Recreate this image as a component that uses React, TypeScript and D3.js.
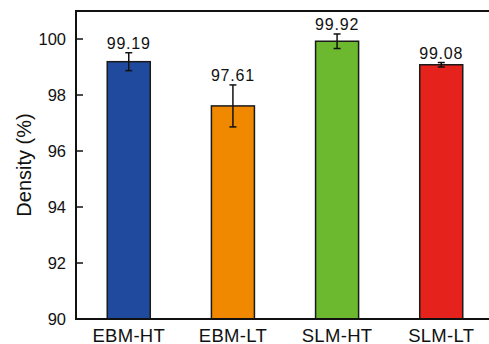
import React from "react";
import * as d3 from "d3";

const categories = ["EBM-HT", "EBM-LT", "SLM-HT", "SLM-LT"];
const densities = [99.19, 97.61, 99.92, 99.08];
const errors = [0.32, 0.75, 0.26, 0.08];
const barColors = ["#1f4a9e", "#f08800", "#6cb92f", "#e6221c"];
const yTicks = [90, 92, 94, 96, 98, 100];

const W = 489;
const H = 344;
const left = 76;
const right = 494;
const top = 11;
const bottom = 319;

export default function App() {
  const x = d3
    .scaleBand<string>()
    .domain(categories)
    .range([left, right])
    .paddingInner(0.587)
    .paddingOuter(0.3);
  const y = d3.scaleLinear().domain([90, 101]).range([bottom, top]);
  const bw = x.bandwidth();
  const font = "'Liberation Sans', Arial, sans-serif";

  return (
    <svg
      width={W}
      height={H}
      style={{ position: "absolute", left: 0, top: 0, background: "#fff" }}
      fontFamily={font}
    >
      <rect x={0} y={0} width={W} height={H} fill="#fff" />
      {/* bars with error bars and value labels */}
      {categories.map((c, i) => {
        const x0 = x(c)!;
        const cx = x0 + bw / 2;
        const v = densities[i];
        const e = errors[i];
        return (
          <g key={c}>
            <rect
              x={x0}
              y={y(v)}
              width={bw}
              height={bottom - y(v)}
              fill={barColors[i]}
              stroke="#1a1a1a"
              strokeWidth={1.5}
            />
            <g stroke="#111" strokeWidth={1.5}>
              <line x1={cx} x2={cx} y1={y(v + e)} y2={y(v - e)} />
              <line x1={cx - 3.5} x2={cx + 3.5} y1={y(v + e)} y2={y(v + e)} />
              <line x1={cx - 3.5} x2={cx + 3.5} y1={y(v - e)} y2={y(v - e)} />
            </g>
            <text
              x={cx}
              y={y(v + e) - 3.5}
              textAnchor="middle"
              fontSize={16}
              letterSpacing={0.8}
              fill="#111"
            >
              {v.toFixed(2)}
            </text>
            <text
              x={cx}
              y={341.5}
              textAnchor="middle"
              fontSize={18.5}
              letterSpacing={0.3}
              fill="#111"
            >
              {c}
            </text>
          </g>
        );
      })}
      {/* frame */}
      <g stroke="#111" strokeWidth={2} fill="none">
        <line x1={left} x2={right} y1={bottom} y2={bottom} />
        <line x1={left} x2={right} y1={top} y2={top} />
        <line x1={left} x2={left} y1={top - 1} y2={bottom + 1} />
      </g>
      {/* y ticks */}
      {yTicks.map((t) => (
        <g key={t}>
          <line x1={left} x2={left + 7} y1={y(t)} y2={y(t)} stroke="#111" strokeWidth={1.5} />
          <text
            x={left - 10}
            y={y(t)}
            dy="0.36em"
            textAnchor="end"
            fontSize={16.5}
            fill="#111"
          >
            {t}
          </text>
        </g>
      ))}
      <text
        transform={`translate(${31},${(top + bottom) / 2}) rotate(-90)`}
        textAnchor="middle"
        fontSize={20}
        fill="#111"
      >
        Density (%)
      </text>
    </svg>
  );
}
